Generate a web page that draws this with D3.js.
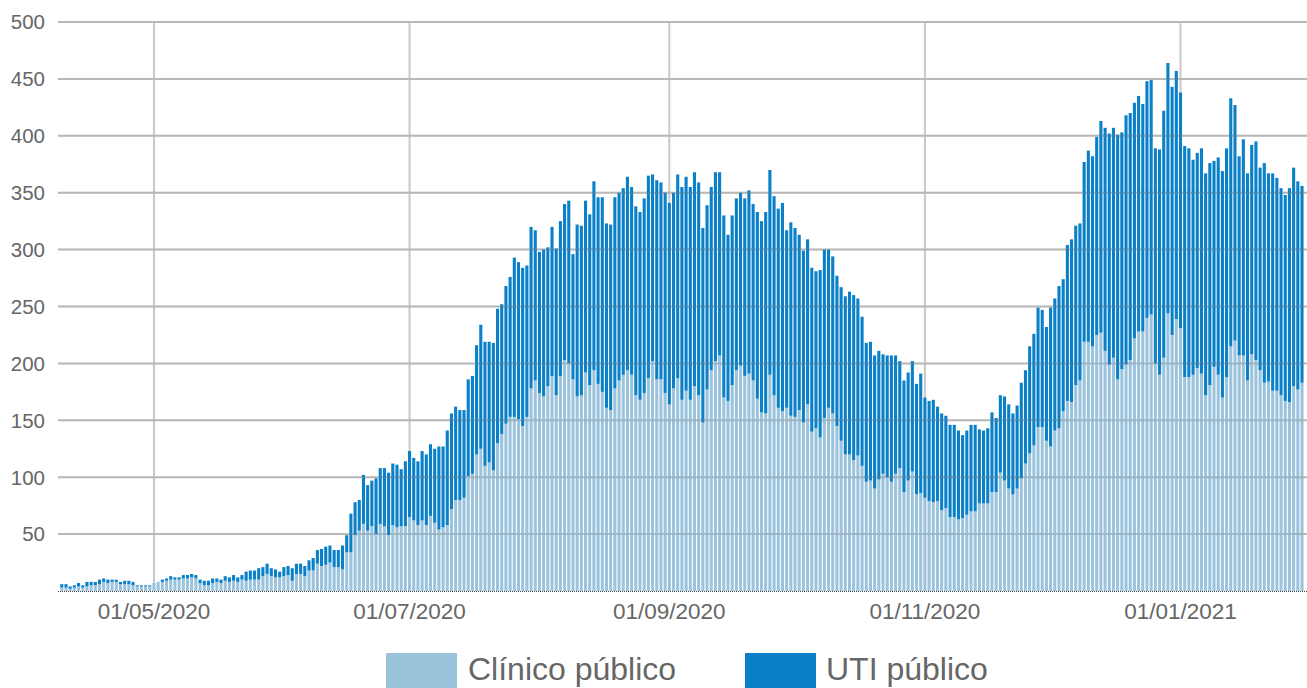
<!DOCTYPE html>
<html><head><meta charset="utf-8">
<script src="https://cdn.jsdelivr.net/npm/d3@7"></script>
<style>
html,body{margin:0;padding:0;background:#fff;}
svg{display:block;font-family:"Liberation Sans",Arial,sans-serif;}
</style></head>
<body>
<svg id="chart" width="1307" height="688"></svg>
<script>
// ---- data ----
const startDate = "09/04/2020";
const seriesNames = ["Clínico público", "UTI público"];
const seriesColors = ["#9cc3dc", "#0a80c8"];
const tickLabels = ["01/05/2020", "01/07/2020", "01/09/2020", "01/11/2020", "01/01/2021"];
const yTicks = [50, 100, 150, 200, 250, 300, 350, 400, 450, 500];

const clinico = [
3,3,2,3,4,3,4,5,5,6,
8,7,8,8,6,6,6,5,4,4,
4,4,7,8,8,9,10,10,10,11,
11,12,11,7,5,5,7,8,7,9,
8,9,8,10,9,10,10,10,13,15,
13,12,12,13,14,9,15,15,13,18,
18,24,22,23,25,21,21,19,34,34,
49,53,59,53,57,50,59,57,49,58,
56,57,57,65,62,58,62,58,66,60,
54,56,58,72,80,80,82,101,103,120,
125,110,113,106,130,138,147,153,153,151,
145,153,178,185,174,171,180,189,172,189,
203,200,186,171,172,192,181,194,182,175,
161,159,178,185,190,194,190,172,168,174,
187,202,186,186,174,164,178,187,168,176,
168,180,172,148,177,194,202,207,170,167,
181,194,198,189,191,185,169,157,156,190,
172,161,158,161,154,153,159,148,164,140,
143,135,152,161,156,145,132,120,120,115,
119,110,96,97,90,98,103,100,96,103,
108,87,97,105,85,86,82,79,78,79,
71,73,65,65,63,64,67,70,70,77,
77,77,87,87,104,97,90,85,90,99,
112,121,128,144,144,132,127,141,143,158,
167,166,181,185,219,219,215,225,227,211,
199,205,186,195,199,203,222,228,228,240,
243,200,190,205,244,225,239,231,188,188,
190,196,191,172,181,197,190,170,188,215,
220,207,207,185,208,203,194,183,184,176,
176,172,167,166,180,177,183
];

const uti = [
3,3,2,2,3,2,4,3,3,4,
3,3,2,2,2,3,3,3,1,1,
1,1,0,0,2,2,3,2,2,3,
3,3,3,3,4,4,4,3,3,4,
4,5,4,4,8,8,8,10,8,9,
7,7,5,8,8,11,9,9,9,9,
11,12,15,16,15,15,15,21,15,34,
29,27,43,40,40,49,49,51,55,54,
55,50,57,58,55,56,61,62,63,65,
73,71,83,84,82,79,77,85,86,96,
109,109,106,112,118,114,121,123,140,138,
139,133,142,132,124,129,122,131,129,136,
137,143,110,151,149,151,150,166,164,171,
162,163,168,165,164,170,165,166,165,171,
178,164,175,173,176,177,172,179,187,188,
187,188,187,171,162,161,166,161,160,146,
149,151,152,156,161,155,164,168,177,180,
175,175,183,156,170,166,154,151,145,144,
138,147,148,139,138,132,135,139,143,145,
138,131,122,122,117,113,105,107,111,104,
94,98,95,97,97,105,88,88,90,83,
85,81,81,81,78,73,74,76,76,65,
64,66,70,65,68,74,74,71,73,84,
82,94,98,105,103,100,122,116,125,116,
137,143,140,138,158,168,167,174,186,196,
203,202,215,208,219,217,207,207,200,208,
206,189,198,217,220,218,218,207,203,201,
189,189,198,195,195,181,191,199,201,218,
207,175,190,182,184,192,178,193,183,191,
187,182,181,188,192,183,173
];

// ---- chart ----
const parse = d3.timeParse("%d/%m/%Y");
const fmt = d3.timeFormat("%d/%m/%Y");
const start = parse(startDate);
const days = d3.timeDay.range(start, d3.timeDay.offset(start, clinico.length));
const keys = days.map(fmt);
const rows = keys.map((k, i) => ({key: k, c: clinico[i], u: uti[i]}));

const svg = d3.select("#chart");
const plotL = 58, plotR = 1307, plotT = 22, plotB = 591;

const x = d3.scaleBand().domain(keys).range([59.7, 1304.1]).paddingInner(0.26).paddingOuter(0.13);
const y = d3.scaleLinear().domain([0, 500]).range([plotB, plotT]);

// vertical grid (behind)
svg.append("g").selectAll("line").data(tickLabels).join("line")
  .attr("x1", d => x(d) + x.bandwidth()/2).attr("x2", d => x(d) + x.bandwidth()/2)
  .attr("y1", plotT).attr("y2", plotB)
  .attr("stroke", "#c8c8c8").attr("stroke-width", 2);

// horizontal grid (behind)
svg.append("g").selectAll("line").data(yTicks).join("line")
  .attr("x1", plotL).attr("x2", plotR)
  .attr("y1", d => y(d)).attr("y2", d => y(d))
  .attr("stroke", "#c8c8c8").attr("stroke-width", 2);

const stack = d3.stack().keys(["c", "u"]);
const layers = stack(rows);

svg.append("g").selectAll("g").data(layers).join("g")
  .attr("fill", (d, i) => seriesColors[i])
  .selectAll("rect").data(d => d).join("rect")
  .attr("x", d => x(d.data.key))
  .attr("width", x.bandwidth())
  .attr("y", d => y(d[1]))
  .attr("height", d => Math.max(0, y(d[0]) - y(d[1])));

// horizontal grid faint overlay
svg.append("g").selectAll("line").data(yTicks).join("line")
  .attr("x1", plotL).attr("x2", plotR)
  .attr("y1", d => y(d)).attr("y2", d => y(d))
  .attr("stroke", "#888").attr("stroke-opacity", 0.25).attr("stroke-width", 2);

// baseline
svg.append("line").attr("x1", plotL).attr("x2", plotR)
  .attr("y1", plotB + 0.5).attr("y2", plotB + 0.5)
  .attr("stroke", "#444").attr("stroke-width", 1).attr("stroke-dasharray", "1,1");

// y labels
svg.append("g").selectAll("text").data(yTicks).join("text")
  .attr("x", 45).attr("y", d => y(d)).attr("dy", "0.36em")
  .attr("text-anchor", "end").attr("font-size", 20.5).attr("fill", "#666")
  .text(d => d);

// x labels
svg.append("g").selectAll("text").data(tickLabels).join("text")
  .attr("x", d => x(d) + x.bandwidth()/2).attr("y", 619)
  .attr("text-anchor", "middle").attr("font-size", 22.5).attr("fill", "#666")
  .text(d => d);

// legend
const legend = [{x: 386, tx: 468}, {x: 745, tx: 826}];
const lg = svg.append("g").selectAll("g").data(seriesNames).join("g");
lg.append("rect").attr("x", (d, i) => legend[i].x).attr("y", 653)
  .attr("width", 71).attr("height", 40).attr("fill", (d, i) => seriesColors[i]);
lg.append("text").attr("x", (d, i) => legend[i].tx).attr("y", 680)
  .attr("font-size", 32).attr("fill", "#666").text(d => d);
</script>
</body></html>
